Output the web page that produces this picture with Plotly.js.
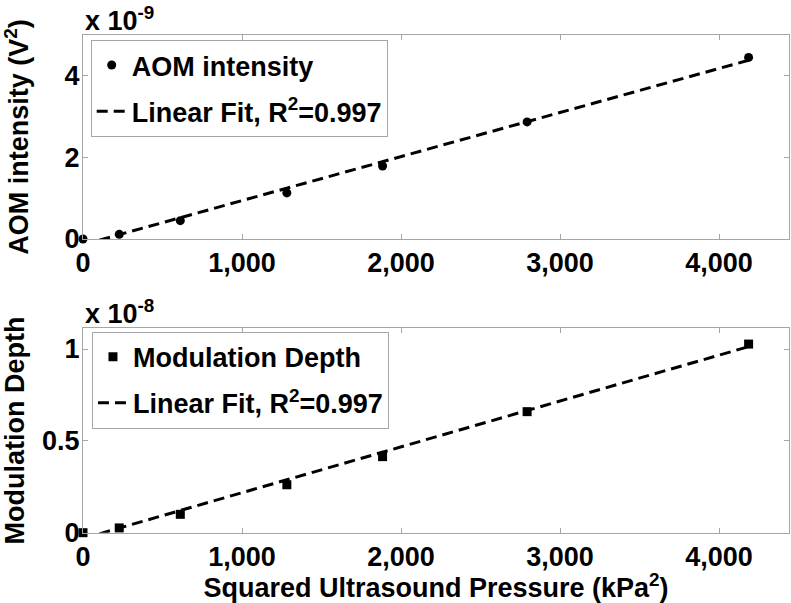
<!DOCTYPE html>
<html>
<head>
<meta charset="utf-8">
<script src="https://cdn.plot.ly/plotly-3.0.1.min.js"></script>
<style>html,body{margin:0;padding:0;background:#fff;}#chart{width:791px;height:603px;}</style>
</head>
<body>
<div id="chart"></div>
<script>
// Squared ultrasound pressure (kPa^2)
const pressureSq = [0, 228, 612, 1282, 1884, 2793, 4186];
// AOM intensity (x 1e-9 V^2)
const aomIntensity = [0.0, 0.115, 0.45, 1.13, 1.79, 2.87, 4.45];
// Modulation depth (x 1e-8)
const modDepth = [0.0, 0.026, 0.10, 0.261, 0.414, 0.659, 1.027];
// Linear fit end points
const fitX = [0, 4186];
const aomFitY = [-0.138, 4.38];
const modFitY = [-0.032, 1.013];
const xTicks = [0, 1000, 2000, 3000, 4000];
const aomTicks = [0, 2, 4];
const modTicks = [0, 0.5, 1];

const F = 'Liberation Sans, Arial, sans-serif';
const FS = 27;
const gray = '#a6a6a6';

const traces = [
  {x: pressureSq, y: aomIntensity, xaxis: 'x', yaxis: 'y', mode: 'markers', name: 'AOM intensity',
   marker: {symbol: 'circle', size: 9, color: 'black', line: {width: 0}}, cliponaxis: false,
   legend: 'legend', legendgroup: 'a1'},
  {x: fitX, y: aomFitY, xaxis: 'x', yaxis: 'y', mode: 'lines', name: 'Linear Fit, R<sup>2</sup>=0.997',
   line: {color: 'black', width: 3, dash: '11px,6px'}, legend: 'legend', legendgroup: 'a2'},
  {x: pressureSq, y: modDepth, xaxis: 'x2', yaxis: 'y2', mode: 'markers', name: 'Modulation Depth',
   marker: {symbol: 'square', size: 9, color: 'black', line: {width: 0}}, cliponaxis: false,
   legend: 'legend2', legendgroup: 'b1'},
  {x: fitX, y: modFitY, xaxis: 'x2', yaxis: 'y2', mode: 'lines', name: 'Linear Fit, R<sup>2</sup>=0.997',
   line: {color: 'black', width: 3, dash: '11px,6px'}, legend: 'legend2', legendgroup: 'b2'}
];

function xa(anchor) {
  return {anchor: anchor, domain: [0, 1], range: [0, 4440], tickvals: xTicks, tickformat: ',',
    showline: true, mirror: 'ticks', linecolor: gray, linewidth: 1, ticks: 'inside', ticklen: 5,
    tickcolor: gray, showgrid: false, zeroline: false,
    tickfont: {family: F, size: FS, weight: 'bold', color: 'black'}};
}
function ya(anchor, domain, range, ticks, title) {
  return {anchor: anchor, domain: domain, range: range, tickvals: ticks,
    showline: true, mirror: 'ticks', linecolor: gray, linewidth: 1, ticks: 'inside', ticklen: 5,
    tickcolor: gray, showgrid: false, zeroline: false, ticklabelstandoff: -3,
    tickfont: {family: F, size: FS, weight: 'bold', color: 'black'},
    title: {text: title, font: {family: F, size: FS, weight: 'bold', color: 'black'}}};
}

const xa1 = xa('y');
const xa2 = xa('y2');
xa2.title = {text: 'Squared Ultrasound Pressure (kPa<sup>2</sup>)', font: {family: F, size: FS, weight: 'bold', color: 'black'}};

const legendBase = {xanchor: 'left', yanchor: 'top', bordercolor: gray, borderwidth: 1, bgcolor: 'white',
  font: {family: F, size: FS, weight: 'bold', color: 'black'}, traceorder: 'grouped', tracegroupgap: 8};

const layout = {
  width: 791, height: 603,
  margin: {l: 83, r: 2, t: 0, b: 0},
  paper_bgcolor: 'white', plot_bgcolor: 'white',
  showlegend: true,
  xaxis: xa1,
  yaxis: ya('x', [0.6036, 0.9420], [0, 5], aomTicks, 'AOM intensity (V<sup>2</sup>)'),
  xaxis2: xa2,
  yaxis2: ya('x2', [0.1166, 0.4556], [0, 1.113], modTicks, 'Modulation Depth'),
  legend: Object.assign({}, legendBase, {x: 0.0109, y: 0.9337}),
  legend2: Object.assign({}, legendBase, {x: 0.0127, y: 0.4499}),
  annotations: [
    {xref: 'paper', yref: 'paper', x: 0, y: 0.937, xanchor: 'left', yanchor: 'bottom', showarrow: false,
     text: 'x 10<sup>-9</sup>', font: {family: F, size: FS, weight: 'bold', color: 'black'}},
    {xref: 'paper', yref: 'paper', x: 0, y: 0.4506, xanchor: 'left', yanchor: 'bottom', showarrow: false,
     text: 'x 10<sup>-8</sup>', font: {family: F, size: FS, weight: 'bold', color: 'black'}}
  ]
};

Plotly.newPlot('chart', traces, layout, {staticPlot: true, displayModeBar: false});
</script>
</body>
</html>
